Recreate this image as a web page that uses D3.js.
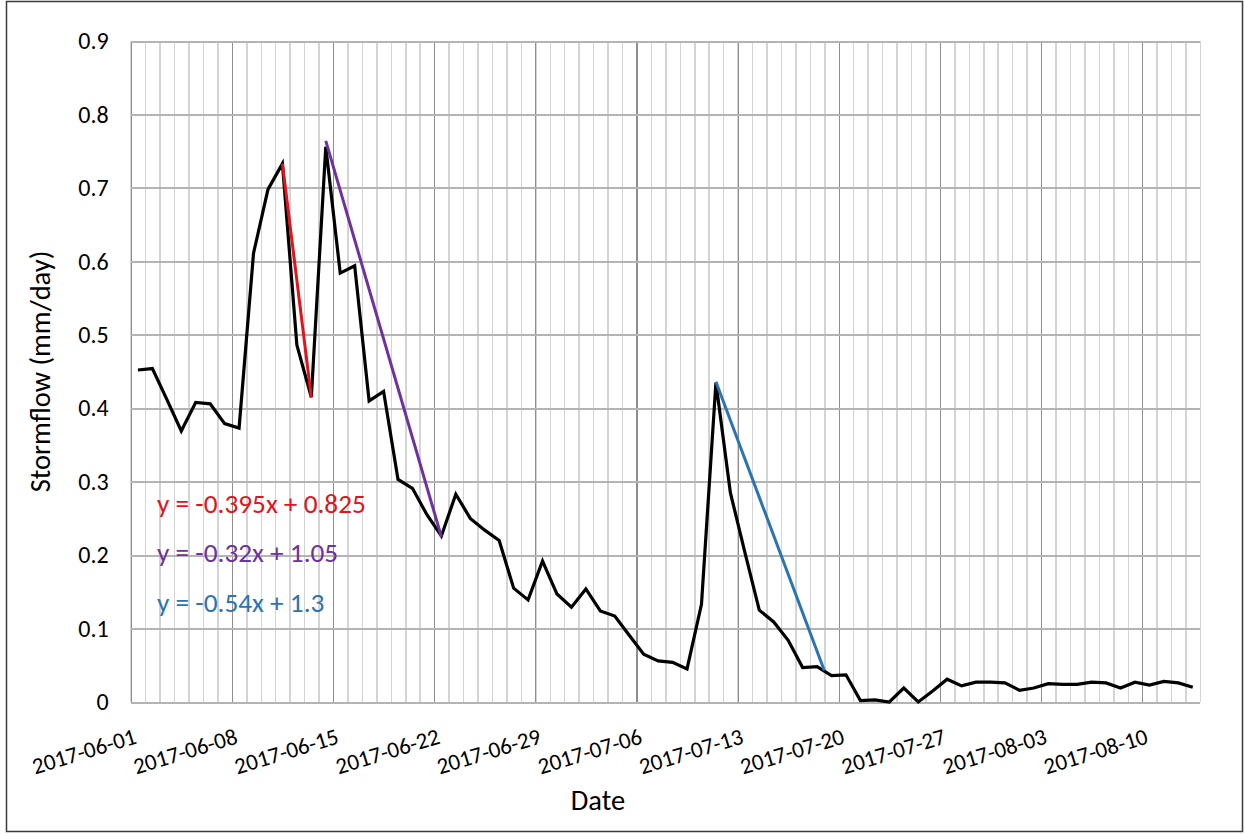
<!DOCTYPE html>
<html>
<head>
<meta charset="utf-8">
<script src="https://cdn.jsdelivr.net/npm/d3@7"></script>
<style>
  body { margin: 0; background: #fff; }
  svg { display: block; font-family: Carlito, Lato, sans-serif; }
  .grid line { shape-rendering: crispEdges; }
  .grid path { display: none; }
</style>
</head>
<body>
<svg id="chart" width="1245" height="834"></svg>
<script>
// daily stormflow, 2017-06-01 .. 2017-08-13
const startDay = '2017-06-01';
const endDay = '2017-08-14';
const stormflow = [
  0.452, 0.454, 0.412, 0.369, 0.408, 0.406, 0.379, 0.373, 0.611, 0.698,
  0.733, 0.486, 0.415, 0.756, 0.584, 0.594, 0.410, 0.423, 0.303, 0.291,
  0.255, 0.226, 0.283, 0.250, 0.234, 0.220, 0.155, 0.139, 0.192, 0.147,
  0.129, 0.154, 0.124, 0.117, 0.091, 0.065, 0.056, 0.054, 0.045, 0.133,
  0.435, 0.285, 0.204, 0.125, 0.109, 0.084, 0.047, 0.048, 0.036, 0.037,
  0.002, 0.003, 0.000, 0.019, 0.000, 0.015, 0.031, 0.022, 0.027, 0.027,
  0.026, 0.016, 0.019, 0.025, 0.024, 0.024, 0.027, 0.026, 0.019, 0.027,
  0.023, 0.028, 0.026, 0.020
];

const xTickLabels = ['2017-06-01', '2017-06-08', '2017-06-15', '2017-06-22', '2017-06-29',
  '2017-07-06', '2017-07-13', '2017-07-20', '2017-07-27', '2017-08-03', '2017-08-10'];
const yTicks = [0, 0.1, 0.2, 0.3, 0.4, 0.5, 0.6, 0.7, 0.8, 0.9];

// recession lines drawn on top of the hydrograph
const trendRed = [['2017-06-11T00', 0.733], ['2017-06-13T00', 0.415]];
const trendPurple = [['2017-06-14T00', 0.764], ['2017-06-22T00', 0.225]];
const trendBlue = [['2017-07-11T00', 0.436], ['2017-07-18T12', 0.043]];
const equations = ['y = -0.395x + 0.825', 'y = -0.32x + 1.05', 'y = -0.54x + 1.3'];

const colors = {red: '#e3121b', purple: '#7030a0', blue: '#2a74b3'};

const parseDay = d3.timeParse('%Y-%m-%d');
const parseHour = d3.timeParse('%Y-%m-%dT%H');

const margin = {top: 41, left: 130.7, right: 45, bottom: 132};
const width = 1245 - margin.left - margin.right;
const height = 834 - margin.top - margin.bottom;

const days = d3.timeDay.range(parseDay(startDay), parseDay(endDay));
const mid = d => d3.timeHour.offset(d, 12);

const x = d3.scaleTime()
  .domain([parseDay(startDay), parseDay(endDay)])
  .range([0, width]);

const y = d3.scaleLinear()
  .domain([0, 0.9])
  .range([height, 0]);

const svg = d3.select('#chart');

// outer chart border
svg.append('rect')
  .attr('x', 6.5).attr('y', 1.5)
  .attr('width', 1236).attr('height', 830)
  .attr('fill', '#fff')
  .attr('stroke', '#3a3a3a')
  .attr('stroke-width', 1.5);

const chart = svg.append('g')
  .attr('transform', `translate(${margin.left}, ${margin.top})`);

// minor (daily) gridlines
chart.append('g')
  .attr('class', 'grid')
  .attr('transform', `translate(0, ${height})`)
  .call(d3.axisBottom(x)
    .tickValues(days.concat([parseDay(endDay)]))
    .tickSize(-height)
    .tickFormat(''))
  .selectAll('line')
  .attr('stroke', '#d4d4d4')
  .attr('stroke-width', 1.5);

// weekly gridlines
chart.append('g')
  .attr('class', 'grid')
  .attr('transform', `translate(0, ${height})`)
  .call(d3.axisBottom(x)
    .tickValues(xTickLabels.map(parseDay))
    .tickSize(-height)
    .tickFormat(''))
  .selectAll('line')
  .attr('stroke', '#8e8e8e')
  .attr('stroke-width', 1.2);

// horizontal gridlines + y labels
const yAxis = chart.append('g')
  .attr('class', 'grid')
  .call(d3.axisLeft(y)
    .tickValues(yTicks)
    .tickSize(-width)
    .tickPadding(22)
    .tickFormat(d => d === 0 ? '0' : d3.format('.1f')(d)));

yAxis.selectAll('line')
  .attr('stroke', '#b4b4b4')
  .attr('stroke-width', 2);

yAxis.selectAll('text')
  .attr('font-size', 24)
  .attr('fill', '#000')
  .attr('font-family', 'Carlito, Lato, sans-serif');

// x tick labels, rotated like the spreadsheet
chart.append('g')
  .selectAll('text')
  .data(xTickLabels)
  .join('text')
  .attr('transform', d => `translate(${x(parseDay(d)) + 7}, ${height + 41}) rotate(-17)`)
  .attr('text-anchor', 'end')
  .attr('font-size', 23)
  .text(d => d);

// hydrograph
const line = d3.line()
  .x((d, i) => x(mid(days[i])))
  .y(d => y(d));

chart.append('path')
  .datum(stormflow)
  .attr('fill', 'none')
  .attr('stroke', '#000')
  .attr('stroke-width', 3.2)
  .attr('stroke-linejoin', 'miter')
  .attr('d', line);

// recession lines
const trendLine = d3.line()
  .x(d => x(mid(parseHour(d[0]))))
  .y(d => y(d[1]));

[[trendRed, colors.red], [trendPurple, colors.purple], [trendBlue, colors.blue]].forEach(([pts, c]) => {
  chart.append('path')
    .datum(pts)
    .attr('fill', 'none')
    .attr('stroke', c)
    .attr('stroke-width', 3)
    .attr('d', trendLine);
});

// equation labels
svg.append('g')
  .selectAll('text')
  .data(equations)
  .join('text')
  .attr('x', 157)
  .attr('y', (d, i) => 503 + i * 49.5)
  .attr('dy', '0.35em')
  .attr('font-size', 27.3)
  .attr('fill', (d, i) => [colors.red, colors.purple, colors.blue][i])
  .text(d => d);

// axis titles
svg.append('text')
  .attr('transform', `translate(40, ${margin.top + height / 2}) rotate(-90)`)
  .attr('text-anchor', 'middle')
  .attr('dy', '0.35em')
  .attr('font-size', 28.5)
  .text('Stormflow (mm/day)');

svg.append('text')
  .attr('x', 598)
  .attr('y', 800)
  .attr('text-anchor', 'middle')
  .attr('dy', '0.35em')
  .attr('font-size', 28.5)
  .text('Date');
</script>
</body>
</html>
